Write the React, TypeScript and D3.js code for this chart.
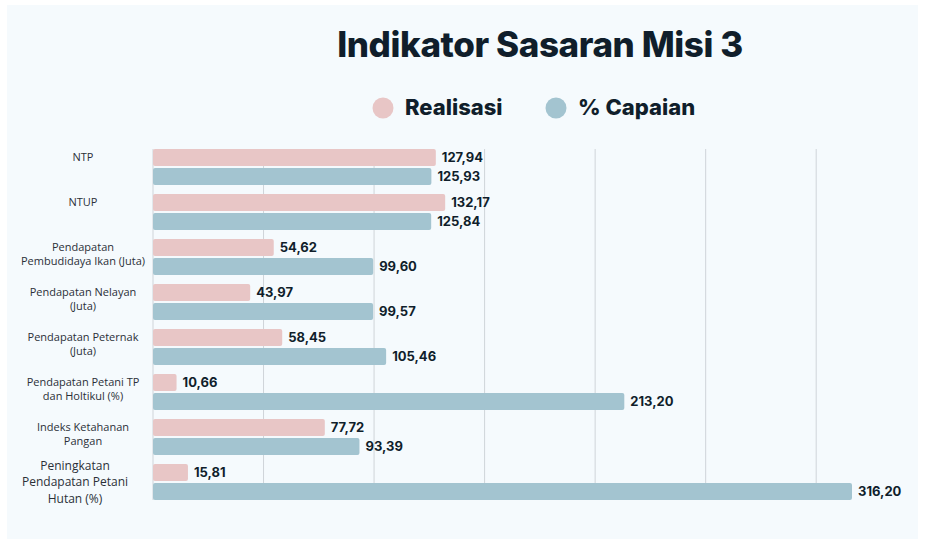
import React from "react";
import * as d3 from "d3";

const categories: string[][] = [
  ["NTP"],
  ["NTUP"],
  ["Pendapatan", "Pembudidaya Ikan (Juta)"],
  ["Pendapatan Nelayan", "(Juta)"],
  ["Pendapatan Peternak", "(Juta)"],
  ["Pendapatan Petani TP", "dan Holtikul (%)"],
  ["Indeks Ketahanan", "Pangan"],
  ["Peningkatan", "Pendapatan Petani", "Hutan (%)"],
];
const realisasi = [127.94, 132.17, 54.62, 43.97, 58.45, 10.66, 77.72, 15.81];
const capaian = [125.93, 125.84, 99.6, 99.57, 105.46, 213.2, 93.39, 316.2];
const gridTicks = [0, 50, 100, 150, 200, 250, 300];
const seriesNames = ["Realisasi", "% Capaian"];

const W = 925;
const H = 544;
const PINK = "#e8c6c6";
const BLUE = "#a3c4d0";
const INK = "#101e2b";
const FONT = "Inter, 'Noto Sans', sans-serif";

export default function App() {
  const x = d3.scaleLinear().domain([0, 316.2]).range([153, 852]);
  const y = d3
    .scaleBand<number>()
    .domain(d3.range(categories.length))
    .range([149, 509])
    .paddingInner(0)
    .paddingOuter(0);
  const barH = 17;
  const gap = 2;
  const fmt = (v: number) => v.toFixed(2).replace(".", ",");
  const bottom = y(categories.length - 1)! + barH * 2 + gap;

  return (
    <svg
      width={W}
      height={H}
      style={{ position: "absolute", left: 0, top: 0, background: "#ffffff" }}
    >
      <rect x={7} y={5} width={911} height={534} fill="#f5fafd" />
      <text
        x={540}
        y={57}
        textAnchor="middle"
        fontFamily={FONT}
        fontWeight={800}
        fontSize={35}
        fill={INK}
        letterSpacing={-0.4}
      >
        Indikator Sasaran Misi 3
      </text>
      {/* legend */}
      <circle cx={383} cy={108} r={10.5} fill={PINK} />
      <text x={405} y={115} fontFamily={FONT} fontWeight={800} fontSize={22} fill={INK}>
        {seriesNames[0]}
      </text>
      <circle cx={556} cy={108} r={10.5} fill={BLUE} />
      <text x={578} y={115} fontFamily={FONT} fontWeight={800} fontSize={22} fill={INK}>
        {seriesNames[1]}
      </text>
      {/* grid */}
      {gridTicks.map((t) => (
        <line
          key={t}
          x1={x(t)}
          x2={x(t)}
          y1={149}
          y2={bottom}
          stroke="#cfd4d9"
          strokeWidth={1}
        />
      ))}
      {categories.map((lines, i) => {
        const y0 = y(i)!;
        const y1 = y0 + barH + gap;
        const pinkC = y0 + barH / 2;
        const groupC = y0 + barH + gap / 2;
        const big = lines.length > 2;
        const fs = big ? 12 : 11;
        const lh = big ? 16.5 : 14;
        const firstY = big ? groupC - lh * (lines.length - 1) / 2 : pinkC;
        const cx = big ? 75 : 83;
        return (
          <g key={i}>
            <rect x={x(0)} y={y0} width={x(realisasi[i]) - x(0)} height={barH} rx={2} fill={PINK} />
            <rect x={x(0)} y={y1} width={x(capaian[i]) - x(0)} height={barH} rx={2} fill={BLUE} />
            <text
              x={x(realisasi[i]) + 6}
              y={pinkC}
              dy="0.36em"
              fontFamily={FONT}
              fontWeight={700}
              fontSize={13}
              fill={INK}
            >
              {fmt(realisasi[i])}
            </text>
            <text
              x={x(capaian[i]) + 6}
              y={y1 + barH / 2}
              dy="0.36em"
              fontFamily={FONT}
              fontWeight={700}
              fontSize={13}
              fill={INK}
            >
              {fmt(capaian[i])}
            </text>
            {lines.map((l, k) => (
              <text
                key={k}
                x={cx}
                y={firstY + k * lh}
                dy="0.35em"
                textAnchor="middle"
                fontFamily="'Open Sans', 'Noto Sans', sans-serif"
                fontSize={fs}
                fill="#2b3038"
              >
                {l}
              </text>
            ))}
          </g>
        );
      })}
    </svg>
  );
}
